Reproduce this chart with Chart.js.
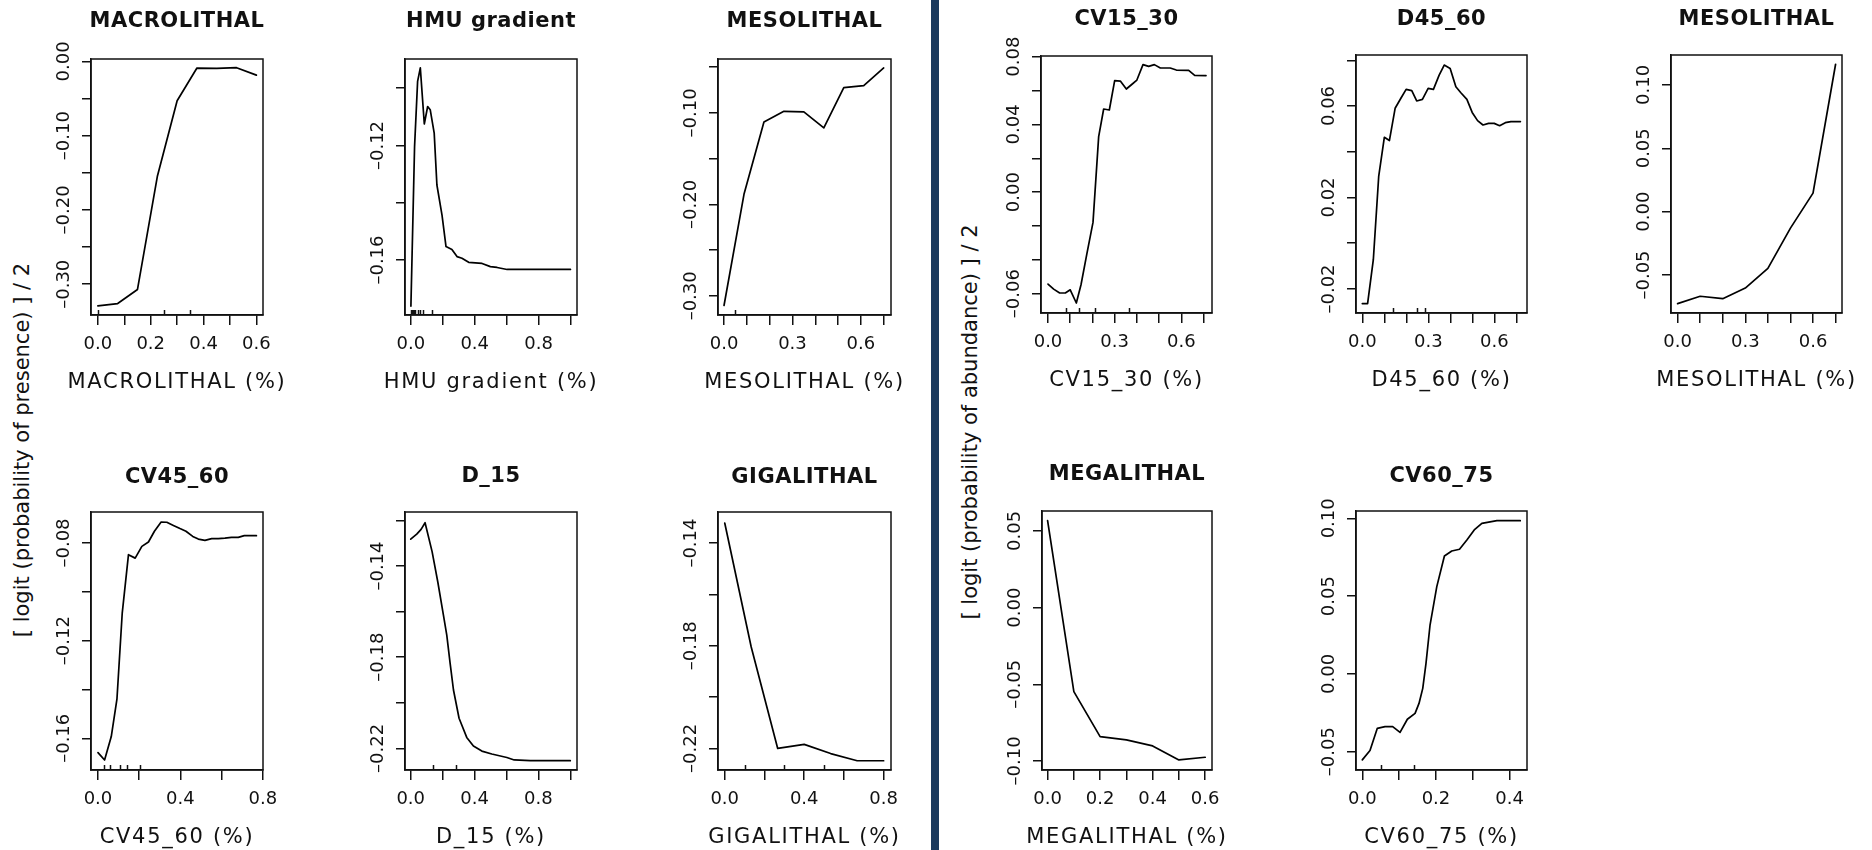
<!DOCTYPE html>
<html>
<head>
<meta charset="utf-8">
<script src="https://cdn.jsdelivr.net/npm/chart.js@4.4.1/dist/chart.umd.min.js"></script>
<style>
  html, body { margin: 0; padding: 0; background: #fff; width: 1872px; height: 850px; overflow: hidden; position: relative; font-family: "DejaVu Sans", sans-serif; }
  canvas.panel { position: absolute; }
  .divider { position: absolute; left: 931px; top: 0; width: 8px; height: 850px; background: #1b3a5e; }
  .ylab { position: absolute; white-space: nowrap; font-size: 21px; line-height: 1; color: #111; transform: translate(-50%, -50%) rotate(-90deg); }
</style>
</head>
<body>
<div class="divider"></div>
<div class="ylab" style="left:22px; top:450px;">[ logit (probability of presence) ] / 2</div>
<div class="ylab" style="left:970px; top:422px;">[ logit (probability of abundance) ] / 2</div>
<script>
// ---- Presence model: partial dependence curves ----
const macrolithalX = [0, 0.075, 0.15, 0.225, 0.3, 0.375, 0.45, 0.525, 0.6];
const macrolithalY = [-0.329, -0.326, -0.307, -0.155, -0.053, -0.009, -0.0095, -0.0085, -0.0185];
const macrolithalRug = [0, 0.25, 0.35];
const macrolithalXTicks = [0, 0.1, 0.2, 0.3, 0.4, 0.5, 0.6];
const macrolithalXLabels = ['0.0', '', '0.2', '', '0.4', '', '0.6'];
const macrolithalYTicks = [0, -0.05, -0.1, -0.15, -0.2, -0.25, -0.3];
const macrolithalYLabels = ['0.00', '', '-0.10', '', '-0.20', '', '-0.30'];

const hmuX = [0, 0.023, 0.042, 0.059, 0.084, 0.105, 0.121, 0.146, 0.163, 0.195, 0.22, 0.257, 0.289, 0.32, 0.362, 0.446, 0.498, 0.54, 0.603, 1.0];
const hmuY = [-0.1761, -0.1203, -0.0976, -0.0929, -0.1125, -0.1064, -0.1075, -0.1157, -0.1338, -0.1443, -0.1553, -0.1563, -0.1588, -0.1594, -0.1608, -0.1612, -0.1623, -0.1626, -0.1633, -0.1633];
const hmuRug = [0.002, 0.006, 0.01, 0.014, 0.018, 0.022, 0.027, 0.043, 0.058, 0.078, 0.13];
const hmuXTicks = [0, 0.2, 0.4, 0.6, 0.8, 1.0];
const hmuXLabels = ['0.0', '', '0.4', '', '0.8', ''];
const hmuYTicks = [-0.10, -0.12, -0.14, -0.16];
const hmuYLabels = ['', '-0.12', '', '-0.16'];

const mesoPresX = [0, 0.0875, 0.175, 0.2625, 0.35, 0.4375, 0.525, 0.6125, 0.7];
const mesoPresY = [-0.3106, -0.189, -0.1098, -0.0982, -0.0989, -0.1164, -0.0723, -0.0701, -0.0508];
const mesoPresRug = [0.05];
const mesoPresXTicks = [0, 0.1, 0.2, 0.3, 0.4, 0.5, 0.6, 0.7];
const mesoPresXLabels = ['0.0', '', '', '0.3', '', '', '0.6', ''];
const mesoPresYTicks = [-0.05, -0.1, -0.15, -0.2, -0.25, -0.3];
const mesoPresYLabels = ['', '-0.10', '', '-0.20', '', '-0.30'];

const cv4560X = [0, 0.032, 0.0645, 0.092, 0.1177, 0.148, 0.1806, 0.213, 0.245, 0.274, 0.3065, 0.334, 0.366, 0.398, 0.427, 0.46, 0.487, 0.519, 0.552, 0.584, 0.616, 0.648, 0.681, 0.71, 0.769];
const cv4560Y = [-0.1659, -0.1689, -0.1593, -0.144, -0.1087, -0.0848, -0.0862, -0.0814, -0.0796, -0.0752, -0.0714, -0.0715, -0.0728, -0.0741, -0.0752, -0.0773, -0.0784, -0.0789, -0.0782, -0.0782, -0.078, -0.0777, -0.0777, -0.077, -0.077];
const cv4560Rug = [0.027, 0.06, 0.105, 0.14, 0.205];
const cv4560XTicks = [0, 0.2, 0.4, 0.6, 0.8];
const cv4560XLabels = ['0.0', '', '0.4', '', '0.8'];
const cv4560YTicks = [-0.08, -0.10, -0.12, -0.14, -0.16];
const cv4560YLabels = ['-0.08', '', '-0.12', '', '-0.16'];

const d15X = [0, 0.0377, 0.065, 0.09, 0.134, 0.1695, 0.205, 0.226, 0.247, 0.268, 0.303, 0.351, 0.393, 0.4456, 0.508, 0.6025, 0.6485, 0.749, 1.0];
const d15Y = [-0.1282, -0.126, -0.1239, -0.121, -0.1337, -0.1469, -0.1615, -0.1703, -0.1827, -0.1944, -0.2068, -0.2152, -0.219, -0.2212, -0.2225, -0.224, -0.2251, -0.2254, -0.2254];
const d15Rug = [0.142, 0.282];
const d15XTicks = [0, 0.2, 0.4, 0.6, 0.8, 1.0];
const d15XLabels = ['0.0', '', '0.4', '', '0.8', ''];
const d15YTicks = [-0.12, -0.14, -0.16, -0.18, -0.20, -0.22];
const d15YLabels = ['', '-0.14', '', '-0.18', '', '-0.22'];

const gigaX = [0, 0.1333, 0.2667, 0.4, 0.5333, 0.6667, 0.8];
const gigaY = [-0.1322, -0.1805, -0.22, -0.2184, -0.222, -0.2248, -0.2248];
const gigaRug = [0.1, 0.3, 0.5];
const gigaXTicks = [0, 0.2, 0.4, 0.6, 0.8];
const gigaXLabels = ['0.0', '', '0.4', '', '0.8'];
const gigaYTicks = [-0.14, -0.16, -0.18, -0.20, -0.22];
const gigaYLabels = ['-0.14', '', '-0.18', '', '-0.22'];

// ---- Abundance model: partial dependence curves ----
const cv1530X = [0, 0.0255, 0.0525, 0.078, 0.1, 0.1275, 0.1485, 0.1755, 0.2025, 0.228, 0.2505, 0.276, 0.3, 0.3255, 0.3525, 0.378, 0.4, 0.4275, 0.453, 0.4785, 0.5055, 0.55, 0.5775, 0.633, 0.66, 0.711];
const cv1530Y = [-0.0543, -0.0573, -0.0596, -0.0596, -0.0577, -0.0655, -0.0547, -0.036, -0.0179, 0.0328, 0.0491, 0.0485, 0.0658, 0.0656, 0.0609, 0.0637, 0.0662, 0.0753, 0.0743, 0.0753, 0.0733, 0.0733, 0.0721, 0.0719, 0.069, 0.0688];
const cv1530Rug = [0.083, 0.138, 0.213, 0.363];
const cv1530XTicks = [0, 0.1, 0.2, 0.3, 0.4, 0.5, 0.6, 0.7];
const cv1530XLabels = ['0.0', '', '', '0.3', '', '', '0.6', ''];
const cv1530YTicks = [0.08, 0.06, 0.04, 0.02, 0, -0.02, -0.04, -0.06];
const cv1530YLabels = ['0.08', '', '0.04', '', '0.00', '', '', '-0.06'];

const d4560X = [0, 0.024, 0.05, 0.0744, 0.1, 0.123, 0.149, 0.1745, 0.199, 0.2246, 0.247, 0.273, 0.299, 0.323, 0.349, 0.372, 0.399, 0.4249, 0.4476, 0.475, 0.499, 0.5235, 0.548, 0.5736, 0.599, 0.6237, 0.6495, 0.675, 0.718];
const d4560Y = [-0.0264, -0.0264, -0.0072, 0.0292, 0.0463, 0.0449, 0.059, 0.0633, 0.0673, 0.0667, 0.0622, 0.0629, 0.0677, 0.0673, 0.0735, 0.0779, 0.0764, 0.0684, 0.0658, 0.0629, 0.0572, 0.0536, 0.0517, 0.0524, 0.0524, 0.0514, 0.0527, 0.0532, 0.0532];
const d4560Rug = [0.141, 0.247, 0.285];
const d4560XTicks = [0, 0.1, 0.2, 0.3, 0.4, 0.5, 0.6, 0.7];
const d4560XLabels = ['0.0', '', '', '0.3', '', '', '0.6', ''];
const d4560YTicks = [0.08, 0.06, 0.04, 0.02, 0, -0.02];
const d4560YLabels = ['', '0.06', '', '0.02', '', '-0.02'];

const mesoAbX = [0, 0.1, 0.2, 0.3, 0.4, 0.5, 0.6, 0.7];
const mesoAbY = [-0.0726, -0.0668, -0.0687, -0.0603, -0.0448, -0.013, 0.0146, 0.1163];
const mesoAbRug = [];
const mesoAbXTicks = [0, 0.1, 0.2, 0.3, 0.4, 0.5, 0.6, 0.7];
const mesoAbXLabels = ['0.0', '', '', '0.3', '', '', '0.6', ''];
const mesoAbYTicks = [0.1, 0.05, 0, -0.05];
const mesoAbYLabels = ['0.10', '0.05', '0.00', '-0.05'];

const megaX = [0, 0.1, 0.2, 0.3, 0.4, 0.5, 0.6];
const megaY = [0.0567, -0.0548, -0.0841, -0.0863, -0.0902, -0.0993, -0.0976];
const megaRug = [];
const megaXTicks = [0, 0.1, 0.2, 0.3, 0.4, 0.5, 0.6];
const megaXLabels = ['0.0', '', '0.2', '', '0.4', '', '0.6'];
const megaYTicks = [0.05, 0, -0.05, -0.1];
const megaYLabels = ['0.05', '0.00', '-0.05', '-0.10'];

const cv6075X = [0, 0.0209, 0.0408, 0.0617, 0.0825, 0.1025, 0.1224, 0.1433, 0.154, 0.1642, 0.173, 0.184, 0.2023, 0.223, 0.243, 0.264, 0.284, 0.304, 0.3247, 0.3655, 0.429];
const cv6075Y = [-0.0553, -0.0493, -0.035, -0.0339, -0.0339, -0.0376, -0.0292, -0.0254, -0.019, -0.0093, 0.0068, 0.0314, 0.0561, 0.0758, 0.079, 0.0801, 0.0861, 0.0925, 0.0968, 0.0985, 0.0985];
const cv6075Rug = [0.051, 0.141];
const cv6075XTicks = [0, 0.1, 0.2, 0.3, 0.4];
const cv6075XLabels = ['0.0', '', '0.2', '', '0.4'];
const cv6075YTicks = [0.1, 0.05, 0, -0.05];
const cv6075YLabels = ['0.10', '0.05', '0.00', '-0.05'];

// ---- Panel layout: plot box [left, top, right, bottom] in page pixels, axis limits ----
const panels = [
  { title: 'MACROLITHAL', xTitle: 'MACROLITHAL (%)', x: macrolithalX, y: macrolithalY, rug: macrolithalRug,
    xTicks: macrolithalXTicks, xLabels: macrolithalXLabels, yTicks: macrolithalYTicks, yLabels: macrolithalYLabels,
    xMin: -0.026, xMax: 0.625, yMin: -0.3414, yMax: 0.0032, box: [91, 59, 263, 315], titleBase: 26.7 },
  { title: 'HMU gradient', xTitle: 'HMU gradient (%)', x: hmuX, y: hmuY, rug: hmuRug,
    xTicks: hmuXTicks, xLabels: hmuXLabels, yTicks: hmuYTicks, yLabels: hmuYLabels,
    xMin: -0.037, xMax: 1.041, yMin: -0.1792, yMax: -0.0898, box: [405, 59, 577, 315], titleBase: 26.7 },
  { title: 'MESOLITHAL', xTitle: 'MESOLITHAL (%)', x: mesoPresX, y: mesoPresY, rug: mesoPresRug,
    xTicks: mesoPresXTicks, xLabels: mesoPresXLabels, yTicks: mesoPresYTicks, yLabels: mesoPresYLabels,
    xMin: -0.0264, xMax: 0.732, yMin: -0.321, yMax: -0.041, box: [718, 59, 891, 315], titleBase: 26.7 },
  { title: 'CV15_30', xTitle: 'CV15_30 (%)', x: cv1530X, y: cv1530Y, rug: cv1530Rug,
    xTicks: cv1530XTicks, xLabels: cv1530XLabels, yTicks: cv1530YTicks, yLabels: cv1530YLabels,
    xMin: -0.0315, xMax: 0.738, yMin: -0.0714, yMax: 0.0804, box: [1041, 56, 1212, 313], titleBase: 25 },
  { title: 'D45_60', xTitle: 'D45_60 (%)', x: d4560X, y: d4560Y, rug: d4560Rug,
    xTicks: d4560XTicks, xLabels: d4560XLabels, yTicks: d4560YTicks, yLabels: d4560YLabels,
    xMin: -0.0287, xMax: 0.748, yMin: -0.0305, yMax: 0.0823, box: [1356, 55, 1527, 313], titleBase: 25 },
  { title: 'MESOLITHAL', xTitle: 'MESOLITHAL (%)', x: mesoAbX, y: mesoAbY, rug: mesoAbRug,
    xTicks: mesoAbXTicks, xLabels: mesoAbXLabels, yTicks: mesoAbYTicks, yLabels: mesoAbYLabels,
    xMin: -0.0292, xMax: 0.7284, yMin: -0.08, yMax: 0.1236, box: [1671, 55, 1842, 313], titleBase: 25 },
  { title: 'CV45_60', xTitle: 'CV45_60 (%)', x: cv4560X, y: cv4560Y, rug: cv4560Rug,
    xTicks: cv4560XTicks, xLabels: cv4560XLabels, yTicks: cv4560YTicks, yLabels: cv4560YLabels,
    xMin: -0.0339, xMax: 0.801, yMin: -0.173, yMax: -0.0673, box: [91, 512, 263, 770], titleBase: 482.5 },
  { title: 'D_15', xTitle: 'D_15 (%)', x: d15X, y: d15Y, rug: d15Rug,
    xTicks: d15XTicks, xLabels: d15XLabels, yTicks: d15YTicks, yLabels: d15YLabels,
    xMin: -0.0358, xMax: 1.042, yMin: -0.2295, yMax: -0.1163, box: [405, 512, 577, 770], titleBase: 482 },
  { title: 'GIGALITHAL', xTitle: 'GIGALITHAL (%)', x: gigaX, y: gigaY, rug: gigaRug,
    xTicks: gigaXTicks, xLabels: gigaXLabels, yTicks: gigaYTicks, yLabels: gigaYLabels,
    xMin: -0.0339, xMax: 0.837, yMin: -0.2284, yMax: -0.1279, box: [718, 512, 891, 770], titleBase: 482.5 },
  { title: 'MEGALITHAL', xTitle: 'MEGALITHAL (%)', x: megaX, y: megaY, rug: megaRug,
    xTicks: megaXTicks, xLabels: megaXLabels, yTicks: megaYTicks, yLabels: megaYLabels,
    xMin: -0.0213, xMax: 0.626, yMin: -0.1059, yMax: 0.063, box: [1042, 511, 1212, 770], titleBase: 480 },
  { title: 'CV60_75', xTitle: 'CV60_75 (%)', x: cv6075X, y: cv6075Y, rug: cv6075Rug,
    xTicks: cv6075XTicks, xLabels: cv6075XLabels, yTicks: cv6075YTicks, yLabels: cv6075YLabels,
    xMin: -0.0171, xMax: 0.4473, yMin: -0.0618, yMax: 0.1047, box: [1356, 511, 1527, 770], titleBase: 481.7 }
];

const FONT = '"DejaVu Sans", "Liberation Sans", sans-serif';
const INK = '#111';
const PAD_L = 90, PAD_T = 62, PAD_R = 32, PAD_B = 82;   // canvas margin around the plot box
const Y_W = 12, X_H = 12;                               // room taken by the tick marks

const dash = s => s.replace('-', '\u2013');

// Box, rug, tick labels and titles, placed through the chart's own scales
function decor(p) {
  return {
    id: 'panelDecor',
    afterDraw(chart) {
      const { ctx, chartArea: a, scales: { x, y } } = chart;
      ctx.save();
      ctx.strokeStyle = INK;
      ctx.lineWidth = 1.5;
      ctx.strokeRect(a.left, a.top, a.right - a.left, a.bottom - a.top);

      ctx.beginPath();
      p.rug.forEach(v => {
        const px = Math.round(x.getPixelForValue(v)) + 0.5;
        ctx.moveTo(px, a.bottom);
        ctx.lineTo(px, a.bottom - 5);
      });
      ctx.stroke();

      ctx.fillStyle = INK;
      ctx.textAlign = 'center';
      ctx.textBaseline = 'alphabetic';
      ctx.font = '18px ' + FONT;
      p.xTicks.forEach((v, i) => {
        const s = p.xLabels[i];
        if (s) ctx.fillText(dash(s), x.getPixelForValue(v), a.bottom + 34);
      });
      p.yTicks.forEach((v, i) => {
        const s = p.yLabels[i];
        if (!s) return;
        ctx.save();
        ctx.translate(a.left - 29, y.getPixelForValue(v));
        ctx.rotate(-Math.PI / 2);
        ctx.fillText(dash(s), 0, 6.5);
        ctx.restore();
      });

      const cx = (a.left + a.right) / 2;
      ctx.font = 'bold 21px ' + FONT;
      ctx.letterSpacing = '0.5px';
      ctx.fillText(p.title, cx, p.titleBase - (p.box[1] - PAD_T));
      ctx.font = '21px ' + FONT;
      ctx.letterSpacing = '1.7px';
      ctx.fillText(p.xTitle, cx, a.bottom + 73);
      ctx.restore();
    }
  };
}

function axis(min, max, ticks, tickLen, fit) {
  return {
    type: 'linear', min, max,
    ticks: { display: false },
    afterBuildTicks: s => { s.ticks = ticks.map(v => ({ value: v })); },
    afterFit: fit,
    grid: { display: true, drawOnChartArea: false, drawTicks: true, tickLength: tickLen, color: INK, lineWidth: 1.5 },
    border: { display: true, color: INK, width: 1.5 }
  };
}

panels.forEach(p => {
  const [L, T, R, B] = p.box;
  const cv = document.createElement('canvas');
  cv.className = 'panel';
  cv.width = (R - L) + PAD_L + PAD_R;
  cv.height = (B - T) + PAD_T + PAD_B;
  cv.style.left = (L - PAD_L) + 'px';
  cv.style.top = (T - PAD_T) + 'px';
  document.body.appendChild(cv);

  new Chart(cv, {
    type: 'line',
    data: {
      datasets: [{
        data: p.x.map((v, i) => ({ x: v, y: p.y[i] })),
        borderColor: '#000', borderWidth: 1.7, pointRadius: 0, tension: 0, fill: false,
        borderJoinStyle: 'round', borderCapStyle: 'round'
      }]
    },
    options: {
      responsive: false, animation: false, events: [],
      layout: { padding: { left: PAD_L - Y_W, top: PAD_T, right: PAD_R, bottom: PAD_B - X_H } },
      plugins: { legend: { display: false }, title: { display: false }, tooltip: { enabled: false } },
      scales: {
        x: axis(p.xMin, p.xMax, p.xTicks, 10, s => { s.height = X_H; }),
        y: axis(p.yMin, p.yMax, p.yTicks, 9, s => { s.width = Y_W; })
      }
    },
    plugins: [decor(p)]
  });
});
</script>
</body>
</html>
